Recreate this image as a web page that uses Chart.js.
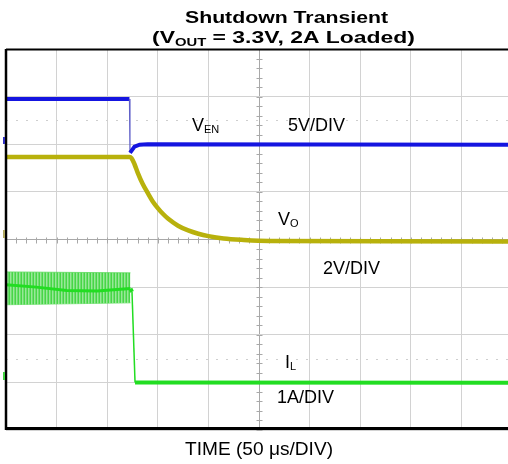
<!DOCTYPE html>
<html>
<head>
<meta charset="utf-8">
<script src="https://cdn.jsdelivr.net/npm/chart.js@4.4.1/dist/chart.umd.min.js"></script>
<style>
html, body { margin: 0; padding: 0; background: #fff; overflow: hidden; }
#wrap { width: 520px; height: 464px; position: relative; }
</style>
</head>
<body>
<div id="wrap"><canvas id="scope"></canvas></div>
<script>
// Scope capture: time in us (50 us/DIV), level in divisions above the bottom of the screen
const timeTicks = [0, 50, 100, 150, 200, 250, 300, 350, 400, 450, 500];
const divTicks = [0, 1, 2, 3, 4, 5, 6, 7, 8];

// V_EN (5V/DIV)
const venTime = [0, 122, 122.5, 124, 127, 132, 140, 500];
const venLevel = [6.95, 6.95, 5.82, 5.86, 5.95, 5.99, 6.0, 5.99];

// V_O (2V/DIV)
const voTime = [0, 122, 124, 127, 130, 135, 140, 145, 150, 155, 160, 170, 180, 190, 200, 215, 235, 260, 500];
const voLevel = [5.73, 5.73, 5.71, 5.58, 5.41, 5.17, 4.98, 4.80, 4.66, 4.54, 4.44, 4.29, 4.19, 4.12, 4.07, 4.02, 3.99, 3.97, 3.96];

// I_L (1A/DIV), average line
const ilTime = [0, 30, 60, 90, 123, 124.5, 127.5, 135, 500];
const ilLevel = [3.05, 3.0, 2.93, 2.92, 2.97, 2.9, 1.0, 1.0, 0.99];

// I_L switching ripple envelope before shutdown
const rippleTime = [0, 123];
const rippleHigh = [3.32, 3.30];
const rippleLow = [2.63, 2.67];

function toPoints(xs, ys) {
    return xs.map((x, i) => ({ x: x, y: ys[i] }));
}

// vertical stripes for the ripple band
function ripplePattern() {
    const c = document.createElement('canvas');
    c.width = 3; c.height = 1;
    const g = c.getContext('2d');
    const cols = ['#47d647', '#98e898', '#6ede6e'];
    cols.forEach((col, i) => { g.fillStyle = col; g.fillRect(i, 0, 1, 1); });
    return g.createPattern(c, 'repeat');
}

// draw a line of text made of parts (for subscripts), optionally stretched to a width
function drawRich(ctx, parts, x, y, width) {
    const fontOf = p => (p.bold ? 'bold ' : '') + p.size + 'px "Liberation Sans", Arial, sans-serif';
    let natural = 0;
    parts.forEach(p => { ctx.font = fontOf(p); natural += ctx.measureText(p.t).width; });
    const sx = width ? width / natural : 1;
    ctx.save();
    ctx.translate(x, y);
    ctx.scale(sx, 1);
    ctx.fillStyle = '#000';
    ctx.textBaseline = 'alphabetic';
    ctx.textAlign = 'left';
    let cx = 0;
    parts.forEach(p => {
        ctx.font = fontOf(p);
        ctx.fillText(p.t, cx, p.dy || 0);
        cx += ctx.measureText(p.t).width;
    });
    ctx.restore();
}

// steep edges are drawn thin, like the scope does
const isEdge = c => Math.abs(c.p1.parsed.y - c.p0.parsed.y) > 0.5;

const scopeDecor = {
    id: 'scopeDecor',
    beforeDatasetsDraw(chart) {
        const ctx = chart.ctx;
        const xs = chart.scales.x, ys = chart.scales.y;
        const a = chart.chartArea;
        ctx.save();
        // faint dotted half-division lines
        ctx.strokeStyle = '#cfcfcf';
        ctx.lineWidth = 1;
        ctx.setLineDash([2, 8]);
        [1.5, 6.5].forEach(v => {
            const py = Math.round(ys.getPixelForValue(v)) + 0.5;
            ctx.beginPath(); ctx.moveTo(a.left, py); ctx.lineTo(a.right, py); ctx.stroke();
        });
        ctx.setLineDash([]);
        // minor ticks on the centre lines
        ctx.strokeStyle = '#a8a8a8';
        const cx = Math.round(xs.getPixelForValue(250)) + 0.5;
        const cy = Math.round(ys.getPixelForValue(4)) + 0.5;
        for (let v = 0; v <= 8; v += 0.2) {
            const py = Math.round(ys.getPixelForValue(v)) + 0.5;
            ctx.beginPath(); ctx.moveTo(cx - 3, py); ctx.lineTo(cx + 3, py); ctx.stroke();
        }
        for (let t = 0; t <= 500; t += 10) {
            const px = Math.round(xs.getPixelForValue(t)) + 0.5;
            ctx.beginPath(); ctx.moveTo(px, cy - 3); ctx.lineTo(px, cy + 3); ctx.stroke();
        }
        ctx.restore();
    },
    afterDraw(chart) {
        const ctx = chart.ctx;
        const a = chart.chartArea;
        ctx.save();
        // frame
        ctx.strokeStyle = '#000';
        ctx.lineWidth = 2;
        ctx.beginPath(); ctx.moveTo(a.left, a.top + 0.5); ctx.lineTo(a.right, a.top + 0.5); ctx.stroke();
        ctx.lineWidth = 2.5;
        ctx.beginPath(); ctx.moveTo(a.left, a.top); ctx.lineTo(a.left, a.bottom); ctx.stroke();
        ctx.lineWidth = 3;
        ctx.beginPath(); ctx.moveTo(a.left, a.bottom - 1.5); ctx.lineTo(a.right, a.bottom - 1.5); ctx.stroke();
        // channel ground markers
        ctx.fillStyle = '#3030c0'; ctx.fillRect(3, 137, 2, 7);
        ctx.fillStyle = '#b0a860'; ctx.fillRect(3, 230, 2, 8);
        ctx.fillStyle = '#40d040'; ctx.fillRect(3, 372, 2, 8);
        ctx.restore();

        // title
        drawRich(ctx, [{ t: 'Shutdown Transient', size: 17, bold: true }], 185, 23, 203);
        drawRich(ctx, [
            { t: '(V', size: 17, bold: true },
            { t: 'OUT', size: 11, bold: true, dy: 3 },
            { t: ' = 3.3V, 2A Loaded)', size: 17, bold: true }
        ], 152, 43, 263);

        // trace labels
        drawRich(ctx, [{ t: 'V', size: 18 }, { t: 'EN', size: 11, dy: 2 }], 192, 131);
        drawRich(ctx, [{ t: '5V/DIV', size: 18 }], 288, 131);
        drawRich(ctx, [{ t: 'V', size: 18 }, { t: 'O', size: 11, dy: 2 }], 278, 225);
        drawRich(ctx, [{ t: '2V/DIV', size: 18 }], 323, 274);
        drawRich(ctx, [{ t: 'I', size: 18 }, { t: 'L', size: 11, dy: 2 }], 285, 368);
        drawRich(ctx, [{ t: '1A/DIV', size: 18 }], 277, 403);

        // time base
        drawRich(ctx, [{ t: 'TIME (50 \u03bcs/DIV)', size: 18 }], 185, 455, 148);
    }
};

const gridColor = ctx => (ctx.tick && ctx.tick.value === 250) || (ctx.tick && ctx.tick.value === 4) ? '#a8a8a8' : '#d2d2d2';

new Chart(document.getElementById('scope'), {
    type: 'line',
    data: {
        datasets: [
            {
                label: 'I_L ripple high',
                data: toPoints(rippleTime, rippleHigh),
                borderColor: 'rgba(80,215,80,0.7)',
                borderWidth: 1,
                backgroundColor: ripplePattern(),
                fill: '+1',
                order: 4
            },
            {
                label: 'I_L ripple low',
                data: toPoints(rippleTime, rippleLow),
                borderColor: 'rgba(80,215,80,0.7)',
                borderWidth: 1,
                fill: false,
                order: 5
            },
            {
                label: 'I_L',
                data: toPoints(ilTime, ilLevel),
                borderColor: '#22dd22',
                borderWidth: 4,
                segment: {
                    borderWidth: c => isEdge(c) ? 1.5 : (c.p1.parsed.x <= 124 ? 3 : undefined)
                },
                fill: false,
                order: 2
            },
            {
                label: 'V_O',
                data: toPoints(voTime, voLevel),
                borderColor: '#b8b10c',
                borderWidth: 4.5,
                cubicInterpolationMode: 'monotone',
                fill: false,
                order: 1
            },
            {
                label: 'V_EN',
                data: toPoints(venTime, venLevel),
                borderColor: '#1515e0',
                borderWidth: 4,
                segment: {
                    borderWidth: c => isEdge(c) ? 1.2 : undefined,
                    borderColor: c => isEdge(c) ? '#6060c8' : undefined
                },
                fill: false,
                order: 0
            }
        ]
    },
    options: {
        responsive: true,
        maintainAspectRatio: false,
        animation: false,
        layout: { padding: { left: 6, top: 49, right: 8, bottom: 34 } },
        elements: { point: { radius: 0 }, line: { tension: 0 } },
        plugins: {
            legend: { display: false },
            tooltip: { enabled: false }
        },
        scales: {
            x: {
                type: 'linear',
                min: 0,
                max: 500,
                afterBuildTicks: s => { s.ticks = timeTicks.map(v => ({ value: v })); },
                ticks: { display: false },
                grid: { color: gridColor, drawTicks: false, lineWidth: 1 },
                border: { display: false }
            },
            y: {
                type: 'linear',
                min: 0,
                max: 8,
                afterBuildTicks: s => { s.ticks = divTicks.map(v => ({ value: v })); },
                ticks: { display: false },
                grid: { color: gridColor, drawTicks: false, lineWidth: 1 },
                border: { display: false }
            }
        }
    },
    plugins: [scopeDecor]
});
</script>
</body>
</html>
